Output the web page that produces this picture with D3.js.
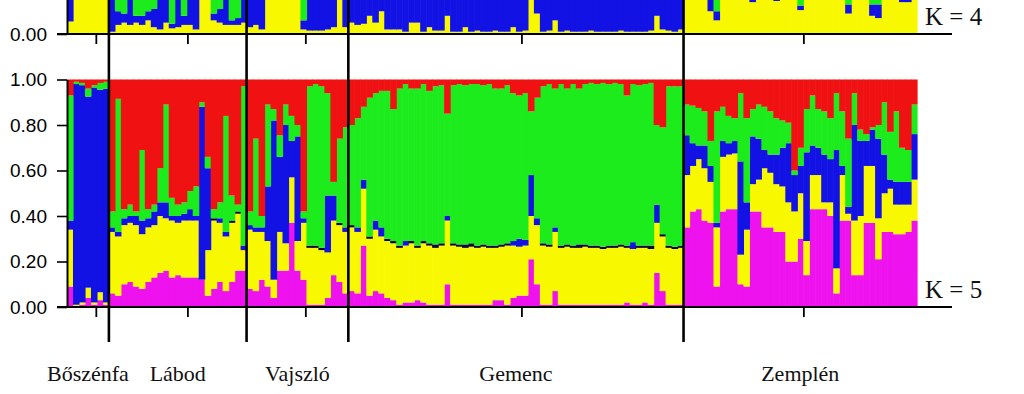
<!DOCTYPE html>
<html>
<head>
<meta charset="utf-8">
<script src="https://cdn.jsdelivr.net/npm/d3@7"></script>
<style>
  body { margin: 0; background: #fff; }
  svg { display: block; }
</style>
</head>
<body>
<svg width="1024" height="394"></svg>
<script>
var populations = ["Bőszénfa", "Lábod", "Vajszló", "Gemenc", "Zemplén"];
var popSizes = [7, 23, 17, 56, 39];
// where the small population ticks sit, in individuals from the left edge
var popTicks = [4.9, 20.2, 39.9, 76.0, 123.1];
var yTicks = [0, 0.2, 0.4, 0.6, 0.8, 1.0];

// K = 5 membership coefficients per individual (stacked bottom -> top)
var k5Magenta = [
  .09,.005,.01,.04,.01,.03,.01,
  .06,.05,.10,.11,.09,.08,.11,.13,.15,.16,.13,.14,.13,.13,.13,.12,.05,.08,.11,.07,.11,.16,.16,
  .08,.07,.12,.09,.04,.16,.16,.37,.16,.12,.01,.01,.01,.04,.14,.11,.06,
  .07,.06,.27,.05,.07,.06,.04,.03,.01,.02, .02,.03,.02,.01,.01,.01,.10,.01,.01,.01,
  .01,.01,.01,.01,.03,.03,.01,.04,.05,.05, .21,.10,.01,.01,.07,.01,.01,.01,.01,.01,
  .01,.01,.01,.01,.01,.01,.02,.01,.01,.02, .01,.15,.07,.01,.01,.01,
  .35,.42,.43,.38,.37,.09,.42,.43,.43,.10, .09,.42,.42,.35,.35,.33,.33,.20,.20,.30,
  .14,.43,.43,.43,.40,.06,.38,.38,.14,.14, .37,.37,.21,.33,.33,.32,.32,.33,.38
];
var k5Yellow = [
  .25,.005,.01,.045,.01,.035,.01,
  .27,.26,.26,.26,.27,.24,.24,.23,.25,.23,.25,.23,.25,.25,.25,0,.20,.30,.26,.24,.26,.25,.09,
  .26,.26,.21,.20,.08,.17,.12,.20,.13,.25,.25,.25,.24,.20,.24,.25,.27,
  .28,.27,.25,.25,.27,.25,.25,.25,.25,.25, .26,.23,.26,.26,.25,.26,.28,.26,.255,.25,
  .255,.25,.255,.25,.23,.235,.26,.23,.215,.22, .19,.26,.26,.255,.26,.25,.255,.25,.25,.255,
  .25,.25,.245,.25,.25,.255,.24,.245,.25,.24, .245,.22,.24,.25,.245,.25,
  .23,.20,.22,.23,.18,.26,.24,.24,.245,.13, .25,.12,.14,.26,.24,.21,.20,.26,.22,.20,
  .15,.15,.15,.03,.06,.11,.20,.03,.24,.26, .25,.25,.18,.17,.19,.13,.13,.12,.18
];
var k5Blue = [
  .04,.97,.955,.84,.945,.89,.94,
  .02,.02,.03,.03,.04,.06,.04,.06,.06,.07,.02,.03,.03,.05,.02,.76,.36,.01,.02,.02,.01,.01,.02,
  .02,.02,.02,.24,.70,.33,.52,.16,.46,.02,.01,.01,.01,.25,.11,.01,.02,
  .01,.02,.04,.01,.04,.04,.01,.01,.01,.02, .01,.01,.01,.01,.015,.01,.02,.01,.01,.015,
  .015,.01,.01,.01,.01,.01,.01,.02,.035,.025, .18,.03,.01,.01,.02,.01,.01,.01,.015,.01,
  .01,.01,.01,.01,.01,.01,.01,.03,.01,.01, .015,.08,.01,.01,.01,.01,
  .175,.10,.06,.10,.07,.02,.07,.05,.055,.41, .12,.21,.18,.08,.08,.13,.17,.26,.16,.12,
  .39,.13,.12,.21,.19,.52,.04,.03,.42,.33, .11,.16,.35,.17,.04,.10,.10,.10,.20
];
var k5Green = [
  .55,.01,.01,.035,.01,.03,.03,
  .07,.585,.04,.05,.02,.31,.04,.03,.15,.43,.08,.05,.05,.08,.13,.02,.05,.04,.07,.51,.11,.03,.70,
  .06,.39,.05,.36,.05,.095,.09,.11,.05,.03,.70,.71,.71,.45,.06,.37,.44,
  .44,.48,.32,.61,.56,.60,.65,.58,.69,.69, .67,.69,.69,.67,.695,.695,.45,.695,.705,.70,
  .70,.71,.70,.71,.69,.685,.695,.65,.63,.645, .28,.53,.69,.705,.61,.71,.685,.71,.685,.705,
  .715,.71,.72,.71,.715,.705,.66,.695,.705,.71, .715,.35,.47,.70,.705,.70,
  .135,.165,.165,.15,.11,.49,.15,.12,.10,.30, .37,.12,.15,.19,.19,.16,.12,.09,.02,.08,
  .19,.22,.17,.19,.18,.25,.24,.30,.14,.05, .03,.01,.06,.23,.21,.31,.15,.14,.13
];
var k5Red = [
  .07,.01,.015,.04,.025,.015,.01,
  .58,.085,.57,.55,.58,.31,.57,.55,.39,.11,.52,.55,.54,.49,.47,.10,.34,.57,.54,.16,.51,.55,.03,
  .58,.26,.60,.11,.13,.245,.11,.16,.20,.58,.03,.02,.03,.06,.45,.26,.21,
  .20,.17,.12,.08,.06,.05,.05,.13,.04,.02, .04,.04,.02,.05,.03,.025,.15,.025,.02,.025,
  .02,.02,.025,.02,.04,.04,.025,.06,.07,.06, .14,.08,.03,.02,.04,.02,.04,.02,.04,.02,
  .015,.02,.015,.02,.015,.02,.07,.02,.025,.02, .015,.20,.21,.03,.03,.03,
  .11,.115,.125,.14,.27,.14,.12,.16,.17,.06, .17,.13,.11,.12,.14,.17,.18,.19,.40,.30,
  .13,.07,.13,.14,.17,.06,.14,.26,.06,.22, .24,.21,.20,.10,.23,.14,.30,.31,.11
];

// K = 4 membership coefficients (only the lowest part of this panel is in view)
var k4Yellow = [
  .055,.98,.98,.98,.98,.98,.98,
  .01,.04,.05,.04,.05,.04,.06,.03,.02,.05,.025,.03,.04,.04,.02,.95,.90,.06,.05,.04,.04,.04,.05,
  .03,.04,.02,.90,.95,.85,.90,.80,.88,.02,.015,.015,.015,.02,.03,.90,.03,
  .05,.04,.045,.08,.05,.10,.02,.02,.02,.01, .05,.05,.01,.03,.015,.015,.08,.01,.01,.03,
  .01,.015,.01,.01,.015,.01,.01,.03,.01,.015, .30,.09,.01,.015,.06,.01,.015,.01,.01,.01,
  .015,.01,.01,.01,.01,.015,.01,.01,.01,.01, .015,.08,.02,.015,.01,.02,
  .85,.85,.85,.85,.10,.06,.85,.85,.85,.85, .85,.14,.85,.85,.85,.145,.85,.85,.85,.105,
  .85,.85,.85,.85,.85,.85,.85,.09,.85,.85, .85,.08,.07,.85,.85,.85,.14,.14,.85
];
var k4Blue = [
  .60,.01,.01,.01,.01,.01,.01,
  .60,.06,.04,.50,.03,.04,.04,.08,.60,.55,.02,.60,.04,.60,.62,.02,.04,.03,.06,.60,.02,.03,.60,
  .65,.60,.70,.05,.03,.10,.06,.10,.08,.04,.95,.95,.95,.80,.60,.05,.80,
  .90,.91,.90,.87,.90,.85,.93,.93,.93,.94, .90,.90,.94,.92,.935,.935,.87,.94,.94,.92,
  .94,.935,.94,.94,.935,.94,.94,.92,.94,.935, .62,.86,.94,.935,.89,.94,.935,.94,.94,.94,
  .935,.94,.94,.94,.94,.935,.94,.94,.94,.94, .935,.87,.93,.935,.94,.93,
  .05,.05,.05,.05,.05,.04,.05,.05,.05,.05, .05,.30,.05,.05,.05,.30,.05,.05,.05,.02,
  .05,.05,.05,.05,.05,.05,.05,.04,.05,.05, .05,.05,.06,.05,.05,.05,.30,.30,.05
];
var k4Green = [
  .30,.005,.005,.005,.005,.005,.005,
  .30,.80,.80,.40,.82,.82,.80,.79,.30,.32,.85,.30,.82,.30,.30,.02,.04,.80,.79,.30,.84,.83,.30,
  .25,.30,.20,.03,.01,.03,.02,.05,.02,.85,.02,.02,.02,.10,.20,.03,.10,
  .04,.04,.04,.04,.04,.04,.04,.04,.04,.04, .04,.04,.04,.04,.04,.04,.04,.04,.04,.04,
  .04,.04,.04,.04,.04,.04,.04,.04,.04,.04, .06,.04,.04,.04,.04,.04,.04,.04,.04,.04,
  .04,.04,.04,.04,.04,.04,.04,.04,.04,.04, .04,.04,.04,.04,.04,.04,
  .05,.05,.05,.05,.75,.80,.05,.05,.05,.05, .05,.50,.05,.05,.05,.50,.05,.05,.05,.80,
  .05,.05,.05,.05,.05,.05,.05,.80,.05,.05, .05,.80,.80,.05,.05,.05,.50,.50,.05
];
var k4Red = [
  .045,.005,.005,.005,.005,.005,.005,
  .09,.10,.11,.06,.10,.10,.10,.10,.08,.08,.105,.07,.10,.06,.06,.01,.02,.11,.10,.06,.10,.10,.05,
  .07,.06,.08,.02,.01,.02,.02,.05,.02,.09,.015,.015,.015,.08,.17,.02,.07,
  .01,.01,.01,.01,.01,.01,.01,.01,.01,.01, .01,.01,.01,.01,.01,.01,.01,.01,.01,.01,
  .01,.01,.01,.01,.01,.01,.01,.01,.01,.01, .02,.01,.01,.01,.01,.01,.01,.01,.01,.01,
  .01,.01,.01,.01,.01,.01,.01,.01,.01,.01, .01,.01,.01,.01,.01,.01,
  .05,.05,.05,.05,.10,.10,.05,.05,.05,.05, .05,.06,.05,.05,.05,.055,.05,.05,.05,.075,
  .05,.05,.05,.05,.05,.05,.05,.07,.05,.05, .05,.07,.07,.05,.05,.05,.06,.06,.05
];

var color = {
  magenta: "#ee12ee",
  yellow: "#f8f800",
  blue: "#1212e4",
  green: "#1ceb1c",
  red: "#f01212"
};

var svg = d3.select("svg");
var N = d3.sum(popSizes);
var xPos = d3.scaleLinear().domain([0, N]).range([67, 917]);
var xBand = d3.scaleBand().domain(d3.range(N)).range([67, 917]);

// population boundaries in individuals
var popStart = [];
popSizes.reduce(function (acc, s) { popStart.push(acc); return acc + s; }, 0);

function drawPanel(series, keys, y, kLabel, kLabelY) {
  var rows = d3.range(N).map(function (i) {
    var r = { i: i };
    keys.forEach(function (k, j) { r[k] = series[j][i] || 0; });
    return r;
  });
  var layers = d3.stack().keys(keys)(rows);

  var g = svg.append("g");
  g.selectAll("g.layer")
    .data(layers)
    .enter()
    .append("g")
    .attr("class", "layer")
    .selectAll("rect")
    .data(function (L) { return L.map(function (p) { p.key = L.key; return p; }); })
    .enter()
    .append("rect")
    .attr("x", function (d) { return xBand(d.data.i); })
    .attr("width", xBand.bandwidth() + 0.6)
    .attr("y", function (d) { return y(Math.min(d[1], 1)); })
    .attr("height", function (d) { return Math.max(0, y(Math.min(d[0], 1)) - y(Math.min(d[1], 1))); })
    .attr("fill", function (d) {
      var h = y(d[0]) - y(d[1]);
      // thin blue slivers come out almost black in the original
      if (d.key === "blue" && h < 4) return "#06063a";
      return color[d.key];
    });

  // y axis, only the ticks that fall inside the picture
  var shown = yTicks.filter(function (v) { return y(v) >= 8; });
  var ax = svg.append("g")
    .attr("transform", "translate(67,0)")
    .call(d3.axisLeft(y).tickValues(shown).tickFormat(d3.format(".2f"))
      .tickSize(10).tickSizeOuter(0).tickPadding(10));
  ax.select(".domain").attr("stroke", "#000").attr("stroke-width", 2);
  ax.selectAll(".tick line").attr("stroke", "#000").attr("stroke-width", 1.6);
  ax.selectAll(".tick text")
    .style("font-family", "'Liberation Sans', Arial, sans-serif")
    .style("font-size", "19px")
    .attr("fill", "#000");

  // baseline
  svg.append("line")
    .attr("x1", 57).attr("x2", 952)
    .attr("y1", y(0)).attr("y2", y(0))
    .attr("stroke", "#000").attr("stroke-width", 2);

  // population ticks under the baseline
  svg.append("g").selectAll("line")
    .data(popTicks)
    .enter()
    .append("line")
    .attr("x1", function (d) { return xPos(d); })
    .attr("x2", function (d) { return xPos(d); })
    .attr("y1", y(0)).attr("y2", y(0) + 10)
    .attr("stroke", "#000").attr("stroke-width", 1.8);

  svg.append("text")
    .attr("x", 925)
    .attr("y", kLabelY)
    .style("font-family", "'Liberation Serif', 'Times New Roman', serif")
    .style("font-size", "25px")
    .attr("fill", "#111")
    .text(kLabel);
}

var yTop = d3.scaleLinear().domain([0, 1]).range([34, 34 - 227.5]);
var yBottom = d3.scaleLinear().domain([0, 1]).range([307, 79.5]);

drawPanel([k4Yellow, k4Blue, k4Green, k4Red], ["yellow", "blue", "green", "red"], yTop, "K = 4", 25);
drawPanel([k5Magenta, k5Yellow, k5Blue, k5Green, k5Red], ["magenta", "yellow", "blue", "green", "red"], yBottom, "K = 5", 298);

// separators between populations
svg.append("g").selectAll("line")
  .data(popStart.slice(1))
  .enter()
  .append("line")
  .attr("x1", function (d) { return xPos(d); })
  .attr("x2", function (d) { return xPos(d); })
  .attr("y1", 0).attr("y2", 342)
  .attr("stroke", "#000").attr("stroke-width", 2.6);

// population names
svg.append("g").selectAll("text")
  .data(populations)
  .enter()
  .append("text")
  .attr("x", function (d, i) { return xPos(popStart[i] + popSizes[i] / 2); })
  .attr("y", 381)
  .attr("text-anchor", "middle")
  .style("font-family", "'Liberation Serif', 'Times New Roman', serif")
  .style("font-size", "22px")
  .attr("fill", "#111")
  .text(function (d) { return d; });
</script>
</body>
</html>
